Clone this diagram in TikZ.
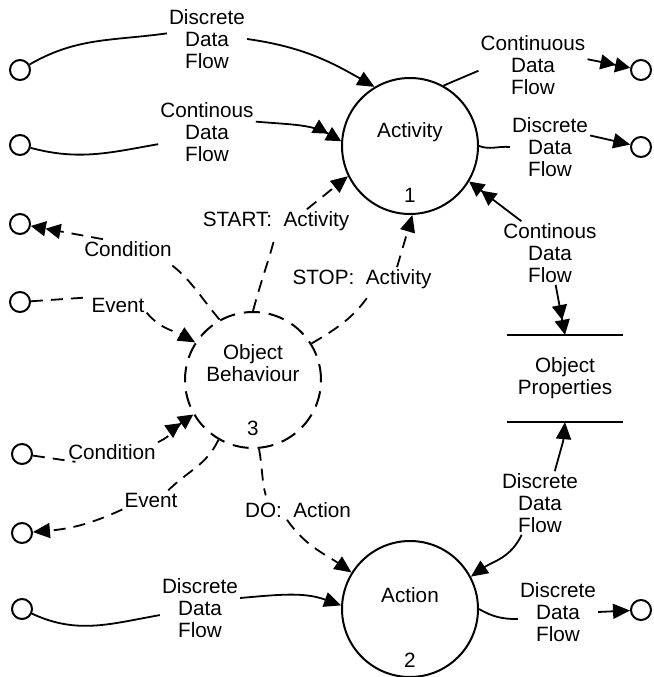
\documentclass[tikz,border=0pt]{standalone}
\usepackage{fontspec}
\setmainfont{Liberation Sans}
\usetikzlibrary{arrows.meta}

\begin{document}
\begin{tikzpicture}[x=1pt,y=1pt,
  every node/.style={font=\fontsize{20.7}{22}\selectfont,align=center,inner sep=2pt},
  proc/.style={circle,draw,line width=2pt,minimum size=136pt,inner sep=0pt},
  ctrl/.style={proc,dash pattern=on 16pt off 9pt},
  term/.style={circle,draw,line width=2pt,minimum size=20pt,inner sep=0pt},
  store/.style={minimum width=116pt,minimum height=87pt},
  flow/.style={line width=1.8pt},
  ctl/.style={flow,dash pattern=on 12pt off 8pt},
  tip/.style={-{Triangle[length=17pt,width=15pt]}},
  dtip/.style={-{Triangle[length=15pt,width=15pt,sep=0pt]Triangle[length=15pt,width=15pt]}}]
\useasboundingbox (0,0) rectangle (653,-677);
% processes
\node[proc]  (act)  at (410,-146)   {};
\node        (actt) at (410,-132)   {Activity};
\node        (actn) at (410,-195)   {1};
\node[ctrl]  (obj)  at (253,-380)   {};
\node        (objt) at (253,-363)   {Object\\Behaviour};
\node        (objn) at (253,-428)   {3};
\node[proc]  (acn)  at (410,-609)   {};
\node        (acnt) at (410,-595)   {Action};
\node        (acnn) at (410,-660)   {2};
\node[store] (prop) at (565,-378.5) {Object\\Properties};
\draw[flow] (prop.north west) -- (prop.north east);
\draw[flow] (prop.south west) -- (prop.south east);
% terminators
\node[term] (t1) at (20,-70)  {};
\node[term] (t2) at (20,-145) {};
\node[term] (t3) at (20,-224) {};
\node[term] (t4) at (20,-302) {};
\node[term] (t5) at (22,-454) {};
\node[term] (t6) at (22,-533) {};
\node[term] (t7) at (22,-609) {};
\node[term] (r1) at (641,-70)  {};
\node[term] (r2) at (641,-147) {};
\node[term] (r3) at (641,-610) {};
% flow labels
\node (ddf1)  at (207,-39)  {Discrete\\Data\\Flow};
\node (cdf1)  at (207,-132) {Continous\\Data\\Flow};
\node (cdf2)  at (533,-65)  {Continuous\\Data\\Flow};
\node (ddf2)  at (550,-147) {Discrete\\Data\\Flow};
\node (cdf3)  at (550,-253) {Continous\\Data\\Flow};
\node (ddf3)  at (540,-503) {Discrete\\Data\\Flow};
\node (ddf4)  at (558,-612) {Discrete\\Data\\Flow};
\node (ddf5)  at (200,-608) {Discrete\\Data\\Flow};
\node (start) at (276,-221) {START:\ \ Activity};
\node (stop)  at (362,-279) {STOP:\ \ Activity};
\node (cnd1)  at (128,-249) {Condition};
\node (evt1)  at (118,-305) {Event};
\node (cnd2)  at (112,-452) {Condition};
\node (evt2)  at (151,-500) {Event};
\node (do)    at (298,-510) {DO:\ \ Action};
% data flows
\draw[flow]      (t1) to[out=30,in=188] (ddf1.172);
\draw[flow,tip]  (ddf1.east) to[out=-8,in=150] (act.121);
\draw[flow]      (t2) to[out=-15,in=190] (cdf1.194);
\draw[flow,dtip] (cdf1.12) to[out=-5,in=150] (act.176);
\draw[flow]      (act.61) -- (cdf2.186);
\draw[flow,dtip] (cdf2.6) -- (r1);
\draw[flow]      (act.east) to[out=-20,in=175] (ddf2.west);
\draw[flow,tip]  (ddf2.16) -- (r2);
\draw[flow,dtip] (cdf3.132) -- (act.-31);
\draw[flow,dtip] (cdf3.-80) -- (prop.north);
\draw[flow,tip]  (ddf3.65) to[out=75,in=-95] (prop.south);
\draw[flow,tip]  (ddf3.240) to[out=-115,in=35] (acn.28);
\draw[flow]      (acn.east) to[out=-30,in=180] (ddf4.190);
\draw[flow,tip]  (ddf4.east) -- (r3);
\draw[flow]      (t7) to[out=-25,in=190] (ddf5.190);
\draw[flow,tip]  (ddf5.14) to[out=5,in=160] (acn.177);
% control flows
\draw[ctl,shorten >=7pt] (obj.north) to[out=75,in=-105] (start.south);
\draw[ctl,tip]  ([xshift=31pt]start.north) -- (act.206);
\draw[ctl,shorten >=6pt] (obj.32) to[out=30,in=-125] ([xshift=10pt]stop.south);
\draw[ctl,tip]  ([xshift=35pt]stop.north) -- (act.-88);
\draw[ctl,shorten >=5pt] (obj.119) to[out=130,in=-35] ([xshift=35pt]cnd1.south);
\draw[ctl,dtip] ([xshift=-25pt]cnd1.north) -- (t3);
\draw[ctl]      (t4) -- (evt1.165);
\draw[ctl,tip]  (evt1.-15) to[out=-50,in=150] (obj.147);
\draw[ctl]      (t5) -- (cnd2.195);
\draw[ctl,dtip] (cnd2.north east) to[out=25,in=215] (obj.210);
\draw[ctl]      (obj.240) to[out=-115,in=45] ([xshift=17pt]evt2.north);
\draw[ctl,tip]  (evt2.south west) to[out=-155,in=5] (t6);
\draw[ctl,shorten >=5pt] (obj.-85) to[out=-80,in=105] ([xshift=-31pt]do.north);
\draw[ctl,tip]  ([xshift=-11pt]do.south) to[out=-55,in=145] (acn.148);
\end{tikzpicture}
\end{document}
